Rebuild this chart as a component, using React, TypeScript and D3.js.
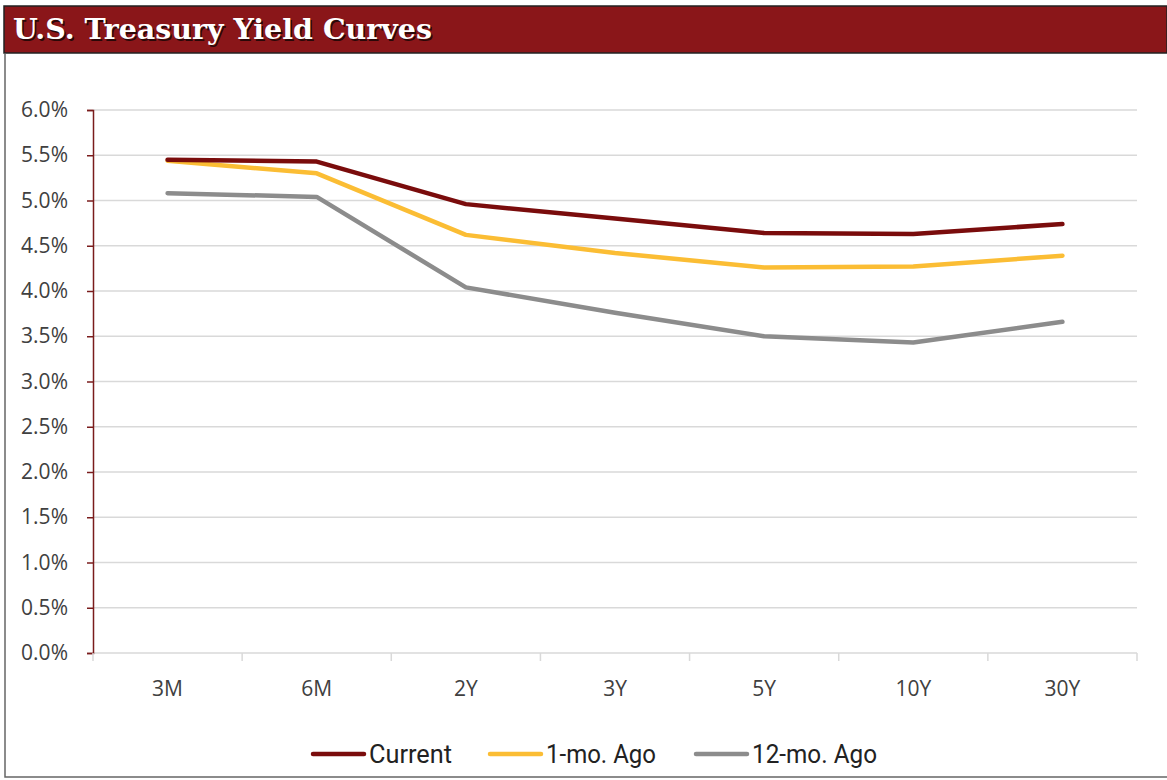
import { useEffect, useRef } from "react";
import * as d3 from "d3";

const W = 1167;
const H = 780;

const maturities = ["3M", "6M", "2Y", "3Y", "5Y", "10Y", "30Y"];
const current = [5.45, 5.43, 4.96, 4.8, 4.64, 4.63, 4.74];
const oneMonthAgo = [5.44, 5.3, 4.62, 4.42, 4.26, 4.27, 4.39];
const twelveMonthsAgo = [5.08, 5.04, 4.04, 3.76, 3.5, 3.43, 3.66];
const yTicks = [0, 0.5, 1, 1.5, 2, 2.5, 3, 3.5, 4, 4.5, 5, 5.5, 6];

const SERIES = [
  { name: "Current", values: current, color: "#7a0c0c" },
  { name: "1-mo. Ago", values: oneMonthAgo, color: "#fbbd34" },
  { name: "12-mo. Ago", values: twelveMonthsAgo, color: "#8c8c8c" },
];

const PLOT = { left: 93, right: 1137, top: 110, bottom: 653 };
const LEGEND_X = [313, 490, 696];
const LEGEND_W = [83, 110, 125];

export default function App() {
  const svgRef = useRef<SVGSVGElement>(null);

  useEffect(() => {
    document.body.style.margin = "0";
    if (!svgRef.current) return;
    const svg = d3.select(svgRef.current);
    svg.selectAll("*").remove();

    svg.append("rect").attr("width", W).attr("height", H).attr("fill", "#fff");

    // frame
    svg
      .append("path")
      .attr("d", `M5,54 V777 H${W}`)
      .attr("fill", "none")
      .attr("stroke", "#666")
      .attr("stroke-width", 1.5);

    // title bar
    svg
      .append("rect")
      .attr("x", 4)
      .attr("y", 6)
      .attr("width", W - 4)
      .attr("height", 47)
      .attr("fill", "#8a1619")
      .attr("stroke", "#222")
      .attr("stroke-width", 1.5);

    const title = "U.S. Treasury Yield Curves";
    [
      { dx: 1.5, fill: "#2a0808" },
      { dx: 0, fill: "#fff" },
    ].forEach((t) => {
      svg
        .append("text")
        .attr("x", 13 + t.dx)
        .attr("y", 39 + t.dx)
        .attr("fill", t.fill)
        .attr("font-family", "'DejaVu Serif', serif")
        .attr("font-weight", "bold")
        .attr("font-size", "28px")
        .attr("textLength", 419)
        .attr("lengthAdjust", "spacingAndGlyphs")
        .text(title);
    });

    const x = d3
      .scaleBand()
      .domain(maturities)
      .range([PLOT.left, PLOT.right]);
    const y = d3
      .scaleLinear()
      .domain([0, 6])
      .range([PLOT.bottom, PLOT.top]);

    // gridlines
    svg
      .append("g")
      .selectAll("line")
      .data(yTicks)
      .join("line")
      .attr("x1", PLOT.left)
      .attr("x2", PLOT.right)
      .attr("y1", (d) => y(d))
      .attr("y2", (d) => y(d))
      .attr("stroke", "#d9d9d9")
      .attr("stroke-width", 1.5);

    // y axis
    const yAxis = svg
      .append("g")
      .attr("transform", `translate(${PLOT.left},0)`)
      .call(
        d3
          .axisLeft(y)
          .tickValues(yTicks)
          .tickSize(6)
          .tickPadding(19)
          .tickFormat((d) => `${(+d).toFixed(1)}%`)
      );
    yAxis.select(".domain").attr("stroke", "#7a1c1c").attr("stroke-width", 1.5);
    yAxis.selectAll(".tick line").attr("stroke", "#7a1c1c").attr("stroke-width", 1.5);
    yAxis
      .selectAll("text")
      .attr("fill", "#404040")
      .attr("font-family", "'Open Sans', sans-serif")
      .attr("font-size", "21px");

    // x axis ticks at band edges
    const edges = maturities.map((m) => x(m) as number).concat([PLOT.right]);
    svg
      .append("g")
      .selectAll("line")
      .data(edges)
      .join("line")
      .attr("x1", (d) => d)
      .attr("x2", (d) => d)
      .attr("y1", PLOT.bottom)
      .attr("y2", PLOT.bottom + 8)
      .attr("stroke", "#d9d9d9")
      .attr("stroke-width", 1.5);

    svg
      .append("g")
      .selectAll("text")
      .data(maturities)
      .join("text")
      .attr("x", (d) => (x(d) as number) + x.bandwidth() / 2)
      .attr("y", 696)
      .attr("text-anchor", "middle")
      .attr("fill", "#404040")
      .attr("font-family", "'Open Sans', sans-serif")
      .attr("font-size", "21px")
      .text((d) => d);

    // lines
    const line = d3
      .line<number>()
      .x((_, i) => (x(maturities[i]) as number) + x.bandwidth() / 2)
      .y((d) => y(d));

    [...SERIES].reverse().forEach((s) => {
      svg
        .append("path")
        .datum(s.values)
        .attr("d", line)
        .attr("fill", "none")
        .attr("stroke", s.color)
        .attr("stroke-width", 4.5)
        .attr("stroke-linecap", "round")
        .attr("stroke-linejoin", "round");
    });

    // legend
    const lg = svg.append("g");
    SERIES.forEach((s, i) => {
      const lx = LEGEND_X[i];
      lg.append("line")
        .attr("x1", lx)
        .attr("x2", lx + 51)
        .attr("y1", 754)
        .attr("y2", 754)
        .attr("stroke", s.color)
        .attr("stroke-width", 4.5)
        .attr("stroke-linecap", "round");
      lg.append("text")
        .attr("x", lx + 56)
        .attr("y", 763)
        .attr("fill", "#222")
        .attr("font-family", "'Roboto', sans-serif")
        .attr("font-size", "25px")
        .attr("textLength", LEGEND_W[i])
        .attr("lengthAdjust", "spacingAndGlyphs")
        .text(s.name);
    });
  }, []);

  return <svg ref={svgRef} width={W} height={H} style={{ display: "block" }} />;
}
